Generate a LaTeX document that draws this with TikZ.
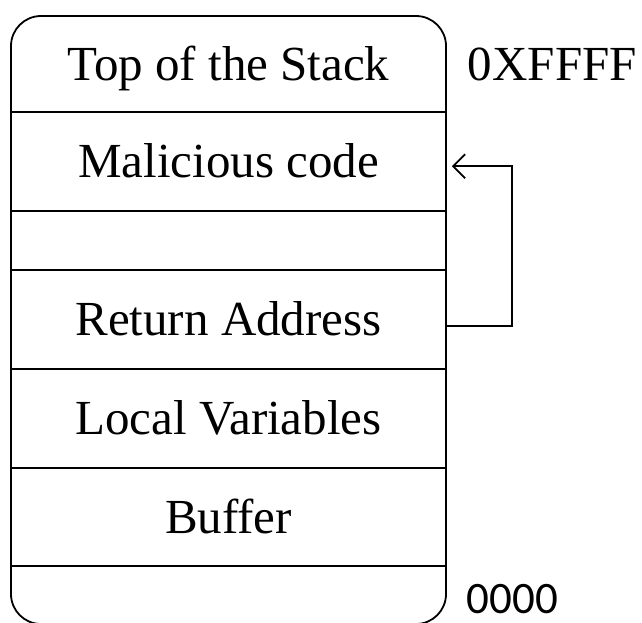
\documentclass[tikz,border=0pt]{standalone}
\usepackage{fontspec}
\setmainfont{Liberation Serif}
\newfontfamily\numfont{Carlito}
\usetikzlibrary{arrows.meta}
\tikzset{
  cell/.style={minimum width=435pt, inner sep=0pt, anchor=base,
    font=\fontsize{49}{55}\selectfont},
  addr/.style={anchor=base west, inner sep=0pt,
    font=\fontsize{49}{55}\selectfont},
}
\begin{document}
\begin{tikzpicture}[x=1pt,y=-1pt,line width=1.8pt]
        \useasboundingbox (0,0) rectangle (642,622);
        \draw[rounded corners=30pt] (11,16) rectangle (446,624);
        \foreach \y in {112,211,270,369,468,566} {
          \draw (11,\y) -- (446,\y);
        }
        \node[cell] (top) at (228.5,80) {Top of the Stack};
        \node[cell] (mal) at (228.5,177) {Malicious code};
        \node[cell] (ret) at (228.5,335) {Return Address};
        \node[cell] (loc) at (228.5,434) {Local Variables};
        \node[cell] (buf) at (228.5,533) {Buffer};
        \node[addr] (hi) at (467,80) {0XFFFF};
        \node[addr, font=\numfont\fontsize{45}{50}\selectfont] (lo) at (466,613) {0000};
        \draw[-{Straight Barb[length=12pt,width=24pt]}]
          ([yshift=-8pt]ret.east) -| ([xshift=65pt,yshift=-6pt]mal.east)
          -- ([xshift=5pt,yshift=-6pt]mal.east);
      \end{tikzpicture}
\end{document}
